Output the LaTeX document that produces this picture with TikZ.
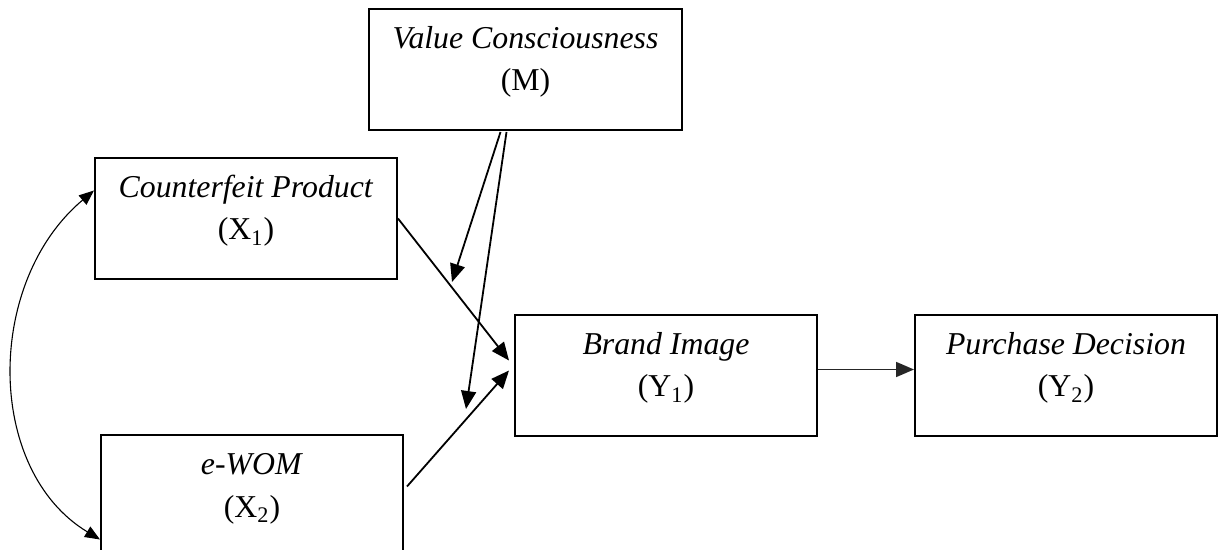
\documentclass[tikz,border=0pt]{standalone}
\usepackage{fontspec}
\setmainfont{Liberation Serif}
\usetikzlibrary{arrows.meta}
\begin{document}
\begin{tikzpicture}[x=0.5pt,y=-0.5pt,
  box/.style={draw, line width=1pt, inner sep=0pt, minimum width=151pt,
    minimum height=60.5pt, align=center,
    font=\fontsize{15.9pt}{21.25pt}\selectfont,
    text height=31pt, text depth=9.5pt, anchor=north west},
  arr/.style={-{Triangle[length=9pt,width=7.5pt]}, line width=0.9pt},
  dbl/.style={{Triangle[length=7.5pt,width=6pt]}-{Triangle[length=7.5pt,width=6pt]}, line width=0.55pt},
  ]
\useasboundingbox (0,0) rectangle (1220,550);

\node[box, minimum width=156.5pt] (m) at (368,8) {\textit{Value Consciousness}\\(M)};
\node[box] (cp) at (94,157) {\textit{Counterfeit Product}\\(X\textsubscript{1})};
\node[box] (bi) at (514,314) {\textit{Brand Image}\\(Y\textsubscript{1})};
\node[box] (pd) at (914,314) {\textit{Purchase Decision}\\(Y\textsubscript{2})};
\node[box] (ew) at (100,434) {\textit{e-WOM}\\(X\textsubscript{2})};

\coordinate (mt1) at (452,282);
\coordinate (mt2) at (466,409);

\draw[arr] (cp.east) -- ([shift={(-5,-15)}]bi.west);
\draw[arr] ([shift={(3,-9)}]ew.east) -- ([shift={(-5,-5)}]bi.west);
\draw[arr] ([shift={(-25,1)}]m.south) -- (mt1);
\draw[arr] ([shift={(-19,1)}]m.south) -- (mt2);
\draw[arr, draw=black!85, fill=black] ([yshift=3pt]bi.east) -- ([yshift=3pt]pd.west);
\draw[dbl] ([shift={(0,-28)}]cp.west) .. controls (-15,282) and (-15,470) .. ([shift={(0,44)}]ew.west);
\end{tikzpicture}
\end{document}
